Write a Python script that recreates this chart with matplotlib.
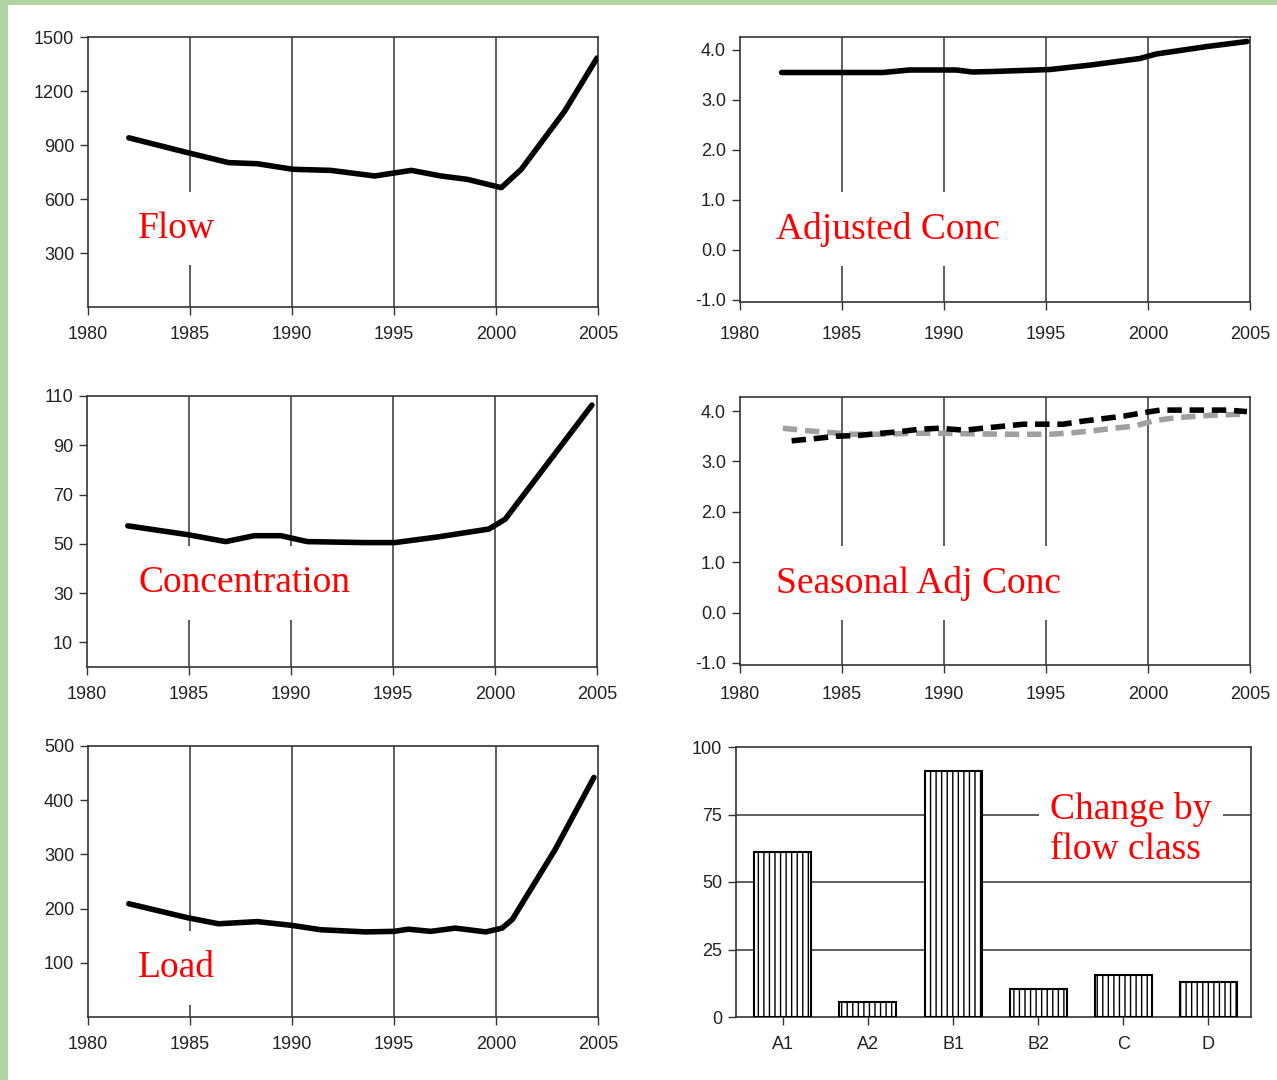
import matplotlib
matplotlib.use('Agg')
import matplotlib.pyplot as plt
from matplotlib.patches import Rectangle

# ---- data ----
flow_yr = [1982.0, 1984.9, 1986.9, 1988.3, 1990.05, 1991.9, 1994.05, 1995.85,
           1997.3, 1998.6, 2000.26, 2001.24, 2003.37, 2004.95]
flow_val = [940, 857, 802, 796, 765, 759, 728, 759, 728, 709, 663, 765, 1089, 1383]

adj_yr = [1982.04, 1987.0, 1988.3, 1990.6, 1991.4, 1992.4, 1995.2, 1997.2,
          1999.6, 2000.4, 2002.9, 2004.85]
adj_val = [3.55, 3.55, 3.60, 3.60, 3.56, 3.57, 3.61, 3.70, 3.83, 3.92, 4.07, 4.17]

conc_yr = [1982.0, 1984.95, 1986.8, 1988.2, 1989.5, 1990.8, 1993.6, 1995.1,
           1997.2, 1999.7, 2000.5, 2004.75]
conc_val = [57.3, 53.7, 50.9, 53.3, 53.3, 50.9, 50.5, 50.5, 52.8, 56.0, 60.0, 106.3]

seas_yr = [1982.53, 1983.8, 1984.7, 1985.9, 1986.9, 1987.8, 1988.8, 1989.8, 1991.0,
           1991.9, 1992.9, 1993.9, 1994.9, 1995.85, 1996.8, 1997.8, 1998.8, 1999.8,
           2000.6, 2002.2, 2003.9, 2004.85]
seas_val = [3.41, 3.46, 3.50, 3.52, 3.56, 3.59, 3.64, 3.66, 3.62, 3.66, 3.70, 3.74,
            3.74, 3.74, 3.80, 3.85, 3.90, 3.97, 4.02, 4.02, 4.02, 3.99]

seas2_yr = [1982.1, 1983.3, 1984.25, 1985.55, 1986.9, 1988.5, 1990.1, 1991.3, 1993.2,
            1995.2, 1996.3, 1997.3, 1998.3, 1999.3, 2000.3, 2001.4, 2003.2, 2004.7]
seas2_val = [3.66, 3.61, 3.58, 3.54, 3.54, 3.56, 3.56, 3.55, 3.54, 3.54, 3.57, 3.61,
             3.66, 3.70, 3.81, 3.87, 3.92, 3.94]

load_yr = [1982.0, 1984.9, 1986.4, 1988.3, 1990.0, 1991.4, 1993.6, 1995.0, 1995.7,
           1996.8, 1998.0, 1999.5, 2000.3, 2000.8, 2002.9, 2004.8]
load_val = [209, 183, 172, 176, 169, 161, 157, 158, 162, 158, 164, 157, 164, 180, 309, 442]

classes = ['A1', 'A2', 'B1', 'B2', 'C', 'D']
change = [61, 5.5, 91, 10.5, 15.5, 13]

years = [1980, 1985, 1990, 1995, 2000, 2005]

# ---- style ----
plt.rcParams['font.family'] = ['Liberation Sans', 'DejaVu Sans']
plt.rcParams['hatch.linewidth'] = 1.0
EDGE = '#333333'
LABEL_FONT = dict(family='Liberation Serif', size=27, color='red')
BOX = dict(facecolor='white', edgecolor='none', pad=14)

W, H = 1277, 1080
fig = plt.figure(figsize=(W / 100, H / 100), dpi=100, facecolor='#b2d4a2')
fig.patches.append(Rectangle((8 / W, 0), 1 - 8 / W, 1 - 5 / H, transform=fig.transFigure,
                             facecolor='white', edgecolor='none', zorder=-10))


def make_ax(px_left, px_top, px_w, px_h, xpad=7.5):
    ax = fig.add_axes([px_left / W, 1 - (px_top + px_h) / H, px_w / W, px_h / H])
    for s in ax.spines.values():
        s.set_color(EDGE)
        s.set_linewidth(1.2)
    ax.tick_params(direction='out', length=6, width=1, color=EDGE,
                   labelsize=13, labelcolor='#222222', pad=4)
    ax.tick_params(axis='x', pad=xpad)
    return ax


def year_axis(ax):
    ax.set_xlim(1980, 2005)
    ax.set_xticks(years)
    ax.set_xticklabels([str(y) for y in years])
    for y in years[1:-1]:
        ax.axvline(y, color=EDGE, lw=1.1, zorder=1)


def label(ax, x, y, txt):
    ax.text(x, y, txt, transform=ax.transAxes, va='center', ha='left',
            bbox=BOX, zorder=2, **LABEL_FONT)


DASH = (0, (2.6, 1.4))

# Flow
ax = make_ax(88, 37, 510, 270)
year_axis(ax)
ax.plot(flow_yr, flow_val, color='black', lw=4, solid_capstyle='round', zorder=3)
ax.set_ylim(0, 1500)
ax.set_yticks([300, 600, 900, 1200, 1500])
label(ax, 0.098, 0.29, 'Flow')

# Adjusted Conc
ax = make_ax(740, 37, 510, 265, xpad=11)
year_axis(ax)
ax.plot(adj_yr, adj_val, color='black', lw=4, solid_capstyle='round', zorder=3)
ax.set_ylim(-1.04, 4.26)
ax.set_yticks([-1, 0, 1, 2, 3, 4])
ax.set_yticklabels(['-1.0', '0.0', '1.0', '2.0', '3.0', '4.0'])
label(ax, 0.0706, 0.275, 'Adjusted Conc')

# Concentration
ax = make_ax(87, 396, 510, 271)
year_axis(ax)
ax.plot(conc_yr, conc_val, color='black', lw=4, solid_capstyle='round', zorder=3)
ax.set_ylim(0, 110)
ax.set_yticks([10, 30, 50, 70, 90, 110])
label(ax, 0.1, 0.31, 'Concentration')

# Seasonal Adj Conc
ax = make_ax(740, 397, 510, 268, xpad=9)
year_axis(ax)
ax.plot(seas2_yr, seas2_val, color='#a0a0a0', lw=4, ls=DASH, zorder=3)
ax.plot(seas_yr, seas_val, color='black', lw=4, ls=DASH, zorder=4)
ax.set_ylim(-1.04, 4.28)
ax.set_yticks([-1, 0, 1, 2, 3, 4])
ax.set_yticklabels(['-1.0', '0.0', '1.0', '2.0', '3.0', '4.0'])
label(ax, 0.0706, 0.305, 'Seasonal Adj Conc')

# Load
ax = make_ax(88, 746, 510, 271)
year_axis(ax)
ax.plot(load_yr, load_val, color='black', lw=4, solid_capstyle='round', zorder=3)
ax.set_ylim(0, 500)
ax.set_yticks([100, 200, 300, 400, 500])
label(ax, 0.098, 0.18, 'Load')

# Change by flow class
ax = make_ax(736, 747, 515, 270)
pos = list(range(len(classes)))
for g in [25, 50, 75]:
    ax.axhline(g, color=EDGE, lw=1.1, zorder=1)
ax.bar(pos, change, width=0.67, color='white', edgecolor='black', lw=1.5,
       hatch='|||', zorder=3)
ax.set_xlim(-0.55, 5.5)
ax.set_ylim(0, 100)
ax.set_xticks(pos)
ax.set_xticklabels(classes)
ax.set_yticks([0, 25, 50, 75, 100])
ax.text(0.61, 0.695, 'Change by\nflow class', transform=ax.transAxes, va='center',
        ha='left', linespacing=1.22, bbox=dict(facecolor='white', edgecolor='none', pad=8),
        zorder=2, **LABEL_FONT)

fig.savefig('out.png', dpi=100, facecolor=fig.get_facecolor())
